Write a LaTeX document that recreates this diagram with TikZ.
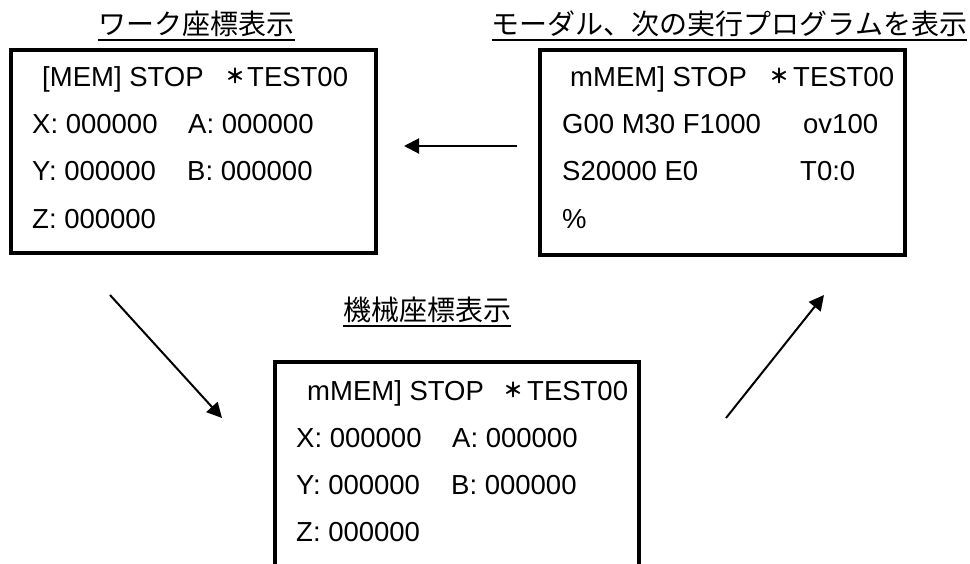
\documentclass[tikz,border=0pt]{standalone}
\usepackage{fontspec}
\setmainfont{Liberation Sans}
\newfontfamily\cjk{Noto Sans CJK JP}
\usetikzlibrary{arrows.meta}
\begin{document}
\begin{tikzpicture}[x=1pt,y=-1pt,
  scr/.style={draw=black, line width=3.8pt, inner sep=0pt},
  txt/.style={anchor=base west, inner sep=0pt, font=\fontsize{27.5}{33}\selectfont},
  ast/.style={anchor=center, inner sep=0pt, font=\cjk\bfseries\fontsize{20}{24}\selectfont},
  ttl/.style={anchor=base, inner sep=0pt, font=\cjk\fontsize{28}{34}\selectfont},
  uline/.style={line width=1.8pt},
  arr/.style={line width=2pt, -{Triangle[length=15pt,width=15pt]}}]
\useasboundingbox (0,0) rectangle (970,563);
\clip (0,0) rectangle (970,563);

% titles
\node[ttl] (t1) at (196.5,34) {ワーク座標表示};
\draw[uline] ([yshift=-6pt]t1.base west) -- ([yshift=-6pt]t1.base east);
\node[ttl] (t2) at (729.5,34) {モーダル、次の実行プログラムを表示};
\draw[uline] ([yshift=-6pt]t2.base west) -- ([yshift=-6pt]t2.base east);
\node[ttl] (t3) at (427,320) {機械座標表示};
\draw[uline] ([yshift=-6pt]t3.base west) -- ([yshift=-6pt]t3.base east);

% screens
\node[scr, minimum width=365pt, minimum height=203pt] (work) at (193.5,151.5) {};
\node[scr, minimum width=365pt, minimum height=205pt] (modal) at (722.5,152.5) {};
\node[scr, minimum width=364pt, minimum height=206pt] (mach) at (457,465) {};

% work screen text
\node[txt] (w1) at (42,86) {[MEM] STOP};
\node[ast] (w1a) at (235,76) {＊};
\node[txt] (w1b) at (247,86) {TEST00};
\node[txt] (w2) at (32,133) {X: 000000};
\node[txt] (w2b) at (188,133) {A: 000000};
\node[txt] (w3) at (32,180) {Y: 000000};
\node[txt] (w3b) at (187,180) {B: 000000};
\node[txt] (w4) at (32,228) {Z: 000000};

% modal screen text
\node[txt] (m1) at (570,86) {mMEM] STOP};
\node[ast] (m1a) at (779,76) {＊};
\node[txt] (m1b) at (793,86) {TEST00};
\node[txt] (m2) at (562,133) {G00 M30 F1000};
\node[txt] (m2b) at (803,133) {ov100};
\node[txt] (m3) at (562,180) {S20000 E0};
\node[txt] (m3b) at (800,180) {T0:0};
\node[txt] (m4) at (562,228) {\%};

% machine screen text
\node[txt] (c1) at (307,400) {mMEM] STOP};
\node[ast] (c1a) at (513,390) {＊};
\node[txt] (c1b) at (527,400) {TEST00};
\node[txt] (c2) at (296,447) {X: 000000};
\node[txt] (c2b) at (452,447) {A: 000000};
\node[txt] (c3) at (296,494) {Y: 000000};
\node[txt] (c3b) at (451,494) {B: 000000};
\node[txt] (c4) at (296,541) {Z: 000000};

% arrows
\coordinate (a1s) at (517,146);
\coordinate (a1e) at (404,146);
\coordinate (a2s) at (110,295);
\coordinate (a2e) at (222,418);
\coordinate (a3s) at (726,418);
\coordinate (a3e) at (824,295);
\draw[arr] (a1s) -- (a1e);
\draw[arr] (a2s) -- (a2e);
\draw[arr] (a3s) -- (a3e);
\end{tikzpicture}
\end{document}
